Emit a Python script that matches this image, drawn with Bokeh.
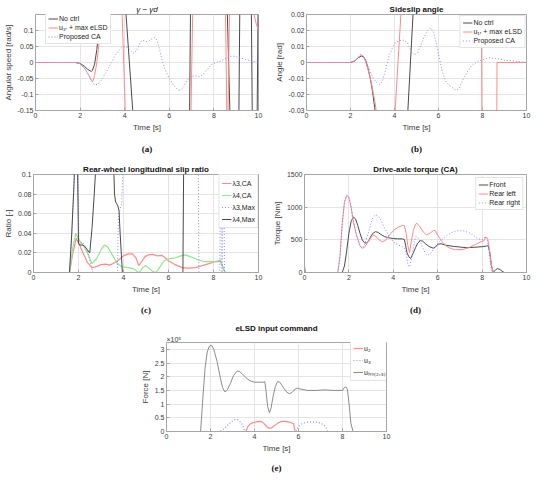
from bokeh.plotting import figure
from bokeh.models import Range1d, FixedTicker, Title, Spacer
from bokeh.layouts import column, row
from bokeh.embed import file_html
from bokeh.resources import INLINE

# ---------------- data ----------------
X_TICKS = [0, 2, 4, 6, 8, 10]
X_LABELS = ["0", "2", "4", "6", "8", "10"]

# (a) yaw-rate error
A_YTICKS = [-0.15, -0.1, -0.05, 0, 0.05, 0.1]
A_YLABELS = ["-0.15", "-0.1", "-0.05", "0", "0.05", "0.1"]
A_NOCTRL_T = [0, 1.8, 2.0, 2.2, 2.35, 2.5, 2.55, 2.65, 2.75, 2.85, 2.92, 3.0, 3.9, 4.05, 4.37, 4.5,
              6.85, 6.91, 6.95, 7.0, 8.55, 8.6, 8.72, 8.8, 9.08, 9.12, 9.16, 9.2, 9.64, 9.68, 9.72,
              9.76, 9.9, 9.94, 9.98, 10]
A_NOCTRL_Y = [0, 0, -0.003, -0.012, -0.022, -0.028, -0.025, -0.005, 0.04, 0.11, 0.16, 0.3, 0.3, 0.16,
              -0.16, -0.3, -0.3, -0.16, 0.16, 0.3, 0.3, 0.16, -0.16, -0.3, -0.3, -0.16, 0.16, 0.3,
              0.3, 0.16, -0.16, -0.3, -0.3, -0.16, 0.16, 0.3]
A_ELSD_T = [0, 1.8, 2.0, 2.2, 2.35, 2.5, 2.57, 2.65, 2.75, 2.85, 2.95, 3.02, 3.1, 3.8, 3.88, 4.03,
            4.1, 6.9, 6.97, 7.05, 7.1, 8.48, 8.52, 8.58, 8.6, 8.61, 8.63, 8.7, 8.75, 9.75, 9.8,
            9.9, 10]
A_ELSD_Y = [0, 0, -0.004, -0.018, -0.035, -0.055, -0.06, -0.04, 0.0, 0.06, 0.12, 0.16, 0.3, 0.3,
            0.16, -0.16, -0.3, -0.3, -0.16, 0.16, 0.3, 0.3, 0.16, -0.16, -0.3, -0.3, -0.16, 0.16,
            0.3, 0.3, 0.15, 0.12, 0.1]
A_CA_T = [0, 1.8, 2.0, 2.2, 2.35, 2.5, 2.65, 2.8, 2.95, 3.1, 3.25, 3.4, 3.55, 3.7, 3.85, 4.0, 4.15,
          4.3, 4.42, 4.55, 4.7, 4.8, 4.95, 5.05, 5.2, 5.35, 5.45, 5.55, 5.65, 5.8, 6.0, 6.2, 6.4,
          6.5, 6.65, 6.8, 6.95, 7.1, 7.25, 7.35, 7.5, 7.7, 7.9, 8.1, 8.3, 8.5, 8.7, 8.85, 9.0, 9.2,
          9.4, 9.6, 9.8, 10]
A_CA_Y = [0, 0, -0.004, -0.018, -0.035, -0.055, -0.07, -0.068, -0.055, -0.038, -0.02, 0.0, 0.02,
          0.035, 0.046, 0.05, 0.047, 0.035, 0.028, 0.04, 0.063, 0.07, 0.066, 0.065, 0.073, 0.078,
          0.07, 0.045, 0.015, -0.02, -0.05, -0.072, -0.087, -0.087, -0.075, -0.055, -0.045,
          -0.042, -0.042, -0.044, -0.038, -0.022, -0.006, 0.0, 0.004, 0.012, 0.019, 0.02, 0.018,
          0.014, 0.01, 0.006, 0.003, 0.0]

# (b) sideslip angle
B_YTICKS = [-0.03, -0.02, -0.01, 0, 0.01, 0.02, 0.03]
B_YLABELS = ["-0.03", "-0.02", "-0.01", "0", "0.01", "0.02", "0.03"]
B_NOCTRL_T = [0, 2.0, 2.2, 2.35, 2.5, 2.6, 2.7, 2.8, 2.9, 3.0, 3.1, 3.13, 3.3, 4.5, 4.6, 4.85, 5.0, 10]
B_NOCTRL_Y = [0, 0, 0.001, 0.003, 0.004, 0.0035, 0.001, -0.004, -0.01, -0.018, -0.028, -0.032,
              -0.06, -0.06, -0.032, 0.032, 0.06, 0.06]
B_ELSD_T = [0, 2.0, 2.2, 2.35, 2.45, 2.55, 2.65, 2.75, 2.85, 2.95, 3.05, 3.15, 3.18, 3.3, 3.95,
            4.02, 4.3, 4.4, 7.93, 7.95, 7.97, 8.0, 8.63, 8.65, 8.66, 10]
B_ELSD_Y = [0, 0, 0.001, 0.003, 0.0045, 0.0045, 0.002, -0.002, -0.007, -0.013, -0.02, -0.028,
            -0.032, -0.06, -0.06, -0.032, 0.032, 0.06, 0.06, 0.032, -0.032, -0.06, -0.06, -0.032,
            0.0, 0.0]
B_CA_T = [0, 2.0, 2.2, 2.35, 2.45, 2.55, 2.7, 2.85, 3.0, 3.15, 3.33, 3.45, 3.6, 3.75, 3.9, 4.05,
          4.25, 4.45, 4.6, 4.75, 4.9, 5.05, 5.2, 5.35, 5.5, 5.65, 5.78, 5.9, 6.05, 6.2, 6.35, 6.5,
          6.65, 6.82, 6.95, 7.1, 7.3, 7.5, 7.75, 8.0, 8.3, 8.6, 9.0, 9.5, 10]
B_CA_Y = [0, 0, 0.001, 0.003, 0.005, 0.0045, 0.001, -0.004, -0.009, -0.012, -0.0137, -0.012,
          -0.004, 0.004, 0.009, 0.0125, 0.0138, 0.014, 0.012, 0.007, 0.0047, 0.006, 0.011, 0.016,
          0.02, 0.0216, 0.019, 0.012, 0.002, -0.007, -0.012, -0.0145, -0.016, -0.0174, -0.016,
          -0.011, -0.006, -0.002, 0.0005, 0.0018, 0.003, 0.0025, 0.0015, 0.0008, 0.0]

# (c) rear-wheel longitudinal slip ratio
C_YTICKS = [0, 0.02, 0.04, 0.06, 0.08, 0.1]
C_YLABELS = ["0", "0.02", "0.04", "0.06", "0.08", "0.1"]
C_L3CA_T = [0, 1.6, 1.75, 1.9, 2.05, 2.2, 2.4, 2.6, 2.8, 3.0, 3.2, 3.4, 3.6, 3.8, 4.0, 4.2, 4.4,
            4.55, 4.68, 4.8, 4.95, 5.1, 5.3, 5.5, 5.7, 5.85, 6.0, 6.3, 6.6, 6.9, 7.2, 7.5, 7.8,
            8.05, 8.2, 8.3, 8.4, 8.5, 8.55, 10]
C_L3CA_Y = [0, 0, 0.02, 0.035, 0.028, 0.02, 0.01, 0.005, 0.006, 0.008, 0.0085, 0.0075, 0.01,
            0.013, 0.017, 0.019, 0.019, 0.015, 0.007, 0.011, 0.016, 0.018, 0.0185, 0.017, 0.0175,
            0.015, 0.012, 0.008, 0.005, 0.0045, 0.005, 0.007, 0.009, 0.011, 0.011, 0.012, 0.006,
            0.0005, 0, 0]
C_L4CA_T = [0, 1.6, 1.75, 1.88, 2.0, 2.2, 2.4, 2.6, 2.8, 3.0, 3.15, 3.3, 3.5, 3.7, 3.9, 4.2, 4.45,
            4.6, 4.7, 4.85, 5.0, 5.15, 5.3, 5.45, 5.6, 5.8, 6.0, 6.3, 6.55, 6.75, 7.0, 7.3, 7.6,
            8.0, 8.2, 8.3, 8.4, 8.5, 8.55, 10]
C_L4CA_Y = [0, 0, 0.025, 0.04, 0.034, 0.028, 0.02, 0.009, 0.014, 0.023, 0.028, 0.026, 0.018,
            0.01, 0.006, 0.005, 0.004, 0.001, 0.0, 0.005, 0.007, 0.004, 0.001, 0.0, 0.005, 0.012,
            0.014, 0.015, 0.017, 0.018, 0.016, 0.013, 0.011, 0.011, 0.012, 0.013, 0.007, 0.001,
            0, 0]
C_L3MAX_T = [0, 1.6, 1.7, 1.8, 1.85, 1.97, 2.02, 2.1, 2.2, 2.3, 2.4, 2.5, 2.6, 2.65, 3.73, 3.77,
             3.85, 3.92, 3.97, 4.0, 7.32, 7.35, 8.28, 8.31, 8.35, 8.38, 8.42, 8.45, 8.49, 10]
C_L3MAX_Y = [0, 0, 0.04, 0.09, 0.12, 0.12, 0.03, 0.03, 0.03, 0.027, 0.022, 0.012, 0.003, 0, 0,
             0.055, 0.065, 0.07, 0.1, 0.13, 0.13, 0, 0, 0.13, 0.13, 0, 0.13, 0.13, 0, 0]
C_L4MAX_T = [0, 1.6, 1.7, 1.8, 1.85, 1.92, 1.96, 2.0, 2.05, 2.2, 2.3, 2.4, 2.5, 2.6, 2.7, 2.8,
             3.55, 3.6, 3.65, 3.7, 3.75, 3.8, 3.85, 3.95, 6.64, 6.68, 10]
C_L4MAX_Y = [0, 0, 0.04, 0.09, 0.13, 0.13, 0.1, 0.03, 0.028, 0.028, 0.026, 0.023, 0.02, 0.045,
             0.08, 0.12, 0.12, 0.08, 0.072, 0.07, 0.068, 0.063, 0.04, 0.0, 0, 0.13, 0.13]

# (d) drive-axle torque
D_YTICKS = [0, 500, 1000, 1500]
D_YLABELS = ["0", "500", "1000", "1500"]
D_FRONT_T = [0, 0.03, 1.7, 1.8, 1.9, 2.0, 2.1, 2.2, 2.3, 2.4, 2.5, 2.6, 2.7, 2.8, 2.9, 3.0, 3.1,
             3.2, 3.3, 3.45, 3.6, 3.8, 4.0, 4.2, 4.4, 4.5, 4.55, 4.62, 4.7, 4.78, 4.9, 5.0, 5.1,
             5.22, 5.32, 5.45, 5.6, 5.8, 5.9, 6.02, 6.15, 6.4, 6.7, 7.0, 7.3, 7.6, 8.0, 8.2, 8.28,
             8.35, 8.42, 8.5, 8.6, 8.7, 8.8, 8.9, 9.0, 10]
D_FRONT_Y = [100, 0, 0, 100, 330, 600, 780, 850, 820, 720, 600, 500, 455, 450, 490, 560, 605,
             625, 615, 580, 550, 530, 520, 515, 515, 505, 420, 300, 240, 215, 300, 380, 450, 487,
             480, 440, 400, 372, 390, 435, 440, 415, 400, 390, 380, 385, 395, 405, 410, 300, 100,
             0, 40, 60, 45, 20, 0, 0]
D_RL_T = [0, 1.5, 1.6, 1.7, 1.8, 1.9, 2.0, 2.1, 2.2, 2.35, 2.5, 2.6, 2.7, 2.85, 3.0, 3.1, 3.2,
          3.35, 3.5, 3.65, 3.8, 4.0, 4.2, 4.4, 4.5, 4.58, 4.65, 4.73, 4.8, 4.9, 5.0, 5.06, 5.2,
          5.35, 5.5, 5.65, 5.8, 5.88, 6.0, 6.2, 6.4, 6.6, 6.8, 7.1, 7.4, 7.7, 7.95, 8.1, 8.16,
          8.25, 8.32, 8.4, 8.5, 10]
D_RL_Y = [0, 0, 250, 750, 1080, 1180, 1150, 1000, 780, 560, 410, 370, 385, 460, 540, 570, 560,
          500, 470, 490, 560, 640, 690, 720, 715, 600, 420, 300, 450, 640, 740, 755, 700, 620, 575,
          600, 640, 645, 570, 470, 400, 365, 350, 350, 380, 430, 470, 490, 545, 520, 380, 150, 0, 0]
D_RR_T = [0, 1.5, 1.6, 1.7, 1.8, 1.9, 2.0, 2.1, 2.2, 2.35, 2.5, 2.6, 2.7, 2.85, 3.0, 3.1, 3.2,
          3.3, 3.45, 3.6, 3.8, 4.0, 4.2, 4.4, 4.5, 4.6, 4.67, 4.73, 4.85, 4.95, 5.02, 5.15, 5.3,
          5.45, 5.52, 5.7, 5.9, 6.1, 6.35, 6.6, 6.85, 7.15, 7.4, 7.6, 7.8, 8.0, 8.08, 8.15, 8.22,
          8.3, 8.38, 8.45, 10]
D_RR_Y = [0, 0, 250, 750, 1080, 1180, 1150, 1000, 780, 560, 410, 375, 420, 580, 760, 850, 884,
          870, 800, 680, 560, 470, 420, 400, 370, 250, 100, 85, 250, 480, 556, 520, 400, 290, 263,
          300, 400, 480, 550, 610, 636, 640, 610, 570, 520, 500, 520, 550, 520, 350, 120, 0, 0]

# (e) eLSD input command, in units of 1e5 N
E_YTICKS = [0, 0.5, 1, 1.5, 2, 2.5, 3]
E_YLABELS = ["0", "0.5", "1", "1.5", "2", "2.5", "3"]
E_U2_T = [0, 3.6, 3.7, 3.8, 3.95, 4.1, 4.25, 4.35, 4.45, 4.55, 4.65, 4.75, 4.85, 5.0, 5.1, 5.25,
          5.4, 5.55, 5.7, 5.78, 5.82, 5.85, 10]
E_U2_Y = [0, 0, 0.18, 0.27, 0.33, 0.36, 0.37, 0.35, 0.28, 0.18, 0.12, 0.12, 0.18, 0.27, 0.33, 0.37,
          0.37, 0.35, 0.31, 0.28, 0.1, 0, 0]
E_U3_T = [0, 2.4, 2.5, 2.65, 2.8, 2.95, 3.1, 3.2, 3.3, 3.4, 3.48, 3.57, 5.9, 5.95, 6.05, 6.2, 6.4,
          6.6, 6.85, 7.0, 7.15, 7.25, 7.33, 10]
E_U3_Y = [0, 0, 0.03, 0.12, 0.25, 0.36, 0.43, 0.44, 0.4, 0.3, 0.18, 0.0, 0, 0.12, 0.22, 0.3, 0.34,
          0.35, 0.34, 0.31, 0.24, 0.14, 0.0, 0]
E_ULIM_T = [0, 1.55, 1.65, 1.75, 1.85, 1.95, 2.05, 2.15, 2.3, 2.45, 2.55, 2.65, 2.75, 2.9, 3.05,
            3.2, 3.3, 3.45, 3.6, 3.8, 4.0, 4.2, 4.4, 4.47, 4.52, 4.6, 4.68, 4.75, 4.85, 4.95, 5.05,
            5.15, 5.3, 5.45, 5.58, 5.7, 5.85, 5.95, 6.1, 6.4, 6.8, 7.2, 7.6, 8.0, 8.08, 8.15, 8.22,
            8.3, 8.38, 8.48, 10]
E_ULIM_Y = [0, 0, 1.2, 2.3, 2.9, 3.12, 3.15, 3.0, 2.55, 1.95, 1.6, 1.45, 1.5, 1.75, 2.05, 2.2, 2.2,
            2.1, 1.97, 1.85, 1.8, 1.8, 1.8, 1.82, 1.5, 0.9, 0.68, 0.85, 1.3, 1.65, 1.83, 1.8, 1.62,
            1.45, 1.38, 1.42, 1.55, 1.58, 1.55, 1.5, 1.5, 1.52, 1.5, 1.5, 1.6, 1.63, 1.55, 1.0,
            0.3, 0, 0]

# ---------------- styling ----------------
FONT = "Liberation Sans"
SERIF = "Liberation Serif"
BLACK = "#4a4a4a"
RED = "#ff8a8a"
BLUE = "#8a8aff"
GREEN = "#8fe88f"
GRAY = "#8c8c8c"
AX = "#a6a6a6"
TXT = "#3a3a3a"
DOT = "1 2"


def make_fig(width, height, left, right, top, bottom, y_start, y_end, yticks, ylabels,
             title, ylabel, caption, cap_standoff=12, bold=True):
    p = figure(width=width, height=height, output_backend="svg", toolbar_location=None,
               x_range=Range1d(0, 10), y_range=Range1d(y_start, y_end),
               min_border_left=left, min_border_right=right, min_border_top=top,
               min_border_bottom=bottom)
    p.background_fill_color = "white"
    p.border_fill_color = "white"
    p.outline_line_color = AX
    p.outline_line_width = 1
    p.title.text = title
    p.title.align = "center"
    p.title.text_font = FONT
    p.title.text_font_size = "8px"
    p.title.text_font_style = "bold" if bold else "normal"
    p.title.text_color = "#111111"
    p.title.standoff = 2
    p.xaxis.ticker = FixedTicker(ticks=X_TICKS)
    p.xaxis.major_label_overrides = dict(zip(X_TICKS, X_LABELS))
    p.yaxis.ticker = FixedTicker(ticks=yticks)
    p.yaxis.major_label_overrides = dict(zip(yticks, ylabels))
    p.xaxis.axis_label = "Time [s]"
    p.yaxis.axis_label = ylabel
    for ax in (p.xaxis, p.yaxis):
        ax.axis_line_color = AX
        ax.major_tick_line_color = AX
        ax.major_tick_in = 3
        ax.major_tick_out = 0
        ax.minor_tick_line_color = None
        ax.major_label_text_font = FONT
        ax.major_label_text_font_size = "7px"
        ax.major_label_text_color = TXT
        ax.major_label_standoff = 2
        ax.axis_label_text_font = FONT
        ax.axis_label_text_font_size = "8px"
        ax.axis_label_text_font_style = "normal"
        ax.axis_label_text_color = TXT
        ax.axis_label_standoff = 2
    p.xgrid.ticker = FixedTicker(ticks=X_TICKS)
    p.ygrid.ticker = FixedTicker(ticks=yticks)
    p.grid.grid_line_color = "#e4e4e4"
    p.grid.grid_line_width = 1
    cap = Title(text=caption, align="center", text_font=SERIF, text_font_size="9px",
                text_font_style="bold", text_color="#111111", standoff=cap_standoff)
    p.add_layout(cap, "below")
    return p


def style_legend(p, location, row_h, margin=0):
    leg = p.legend[0]
    leg.location = location
    leg.label_text_font = FONT
    leg.label_text_font_size = "7px"
    leg.label_text_color = "#222222"
    leg.glyph_width = 10
    leg.glyph_height = row_h
    leg.label_height = row_h
    leg.label_standoff = 1
    leg.spacing = 0
    leg.padding = 2
    leg.margin = margin
    leg.border_line_color = "#c8c8c8"
    leg.border_line_width = 1
    leg.background_fill_color = "white"
    leg.background_fill_alpha = 1


# (a)
pa = make_fig(266, 160, 32, 8, 14, 49, -0.15, 0.15, A_YTICKS, A_YLABELS,
              "γ − γd", "Angular speed [rad/s]", "(a)", cap_standoff=14, bold=False)
pa.title.text_font_style = "italic"
pa.line(A_NOCTRL_T, A_NOCTRL_Y, line_color=BLACK, line_width=1, legend_label="No ctrl")
pa.line(A_ELSD_T, A_ELSD_Y, line_color=RED, line_width=1, legend_label="u₁ᵣ + max eLSD")
pa.line(A_CA_T, A_CA_Y, line_color=BLUE, line_width=1, line_dash=DOT,
        legend_label="Proposed CA")
style_legend(pa, (10, 66), 9)

# (b)
pb = make_fig(268, 160, 40, 8, 14, 49, -0.03, 0.03, B_YTICKS, B_YLABELS,
              "Sideslip angle", "Angle [rad]", "(b)", cap_standoff=14)
pb.line(B_NOCTRL_T, B_NOCTRL_Y, line_color=BLACK, line_width=1, legend_label="No ctrl")
pb.line(B_ELSD_T, B_ELSD_Y, line_color=RED, line_width=1, legend_label="u₁ᵣ + max eLSD")
pb.line(B_CA_T, B_CA_Y, line_color=BLUE, line_width=1, line_dash=DOT,
        legend_label="Proposed CA")
style_legend(pb, "top_right", 9, margin=1)

# (c)
pc = make_fig(266, 160, 30, 8, 14, 45, 0, 0.1, C_YTICKS, C_YLABELS,
              "Rear-wheel longitudinal slip ratio", "Ratio [-]", "(c)", cap_standoff=12)
pc.line(C_L3CA_T, C_L3CA_Y, line_color=RED, line_width=1.2, legend_label="λ3,CA")
pc.line(C_L4CA_T, C_L4CA_Y, line_color=GREEN, line_width=1.2, legend_label="λ4,CA")
pc.line(C_L3MAX_T, C_L3MAX_Y, line_color=BLUE, line_width=1, line_dash=DOT,
        legend_label="λ3,Max")
pc.line(C_L4MAX_T, C_L4MAX_Y, line_color=BLACK, line_width=1, legend_label="λ4,Max")
style_legend(pc, "top_right", 12)

# (d)
pd_ = make_fig(268, 160, 38, 8, 14, 45, 0, 1500, D_YTICKS, D_YLABELS,
               "Drive-axle torque (CA)", "Torque [Nm]", "(d)", cap_standoff=12)
pd_.line(D_FRONT_T, D_FRONT_Y, line_color=BLACK, line_width=1, legend_label="Front")
pd_.line(D_RL_T, D_RL_Y, line_color=RED, line_width=1, legend_label="Rear left")
pd_.line(D_RR_T, D_RR_Y, line_color=BLUE, line_width=1, line_dash=DOT,
         legend_label="Rear right")
style_legend(pd_, "top_right", 9, margin=3)

# (e)
pe = make_fig(266, 157, 36, 10, 20, 40, 0, 3.25, E_YTICKS, E_YLABELS,
              "eLSD input command", "Force [N]", "(e)", cap_standoff=10)
pe.line(E_U2_T, E_U2_Y, line_color=RED, line_width=1.2, legend_label="u₂")
pe.line(E_U3_T, E_U3_Y, line_color=BLUE, line_width=1.2, line_dash=DOT, legend_label="u₃")
pe.line(E_ULIM_T, E_ULIM_Y, line_color=GRAY, line_width=1, legend_label="uₗᵢₘ₍₂,₃₎")
style_legend(pe, (184, 50), 12)
pe.add_layout(Title(text="×10⁵", align="left", text_font=FONT, text_font_size="7px",
                    text_font_style="normal", text_color=TXT, standoff=0), "above")

layout = column(row(pa, pb), row(pc, pd_), row(Spacer(width=130, height=157), pe))

open("out.html", "w").write(file_html(layout, INLINE))
